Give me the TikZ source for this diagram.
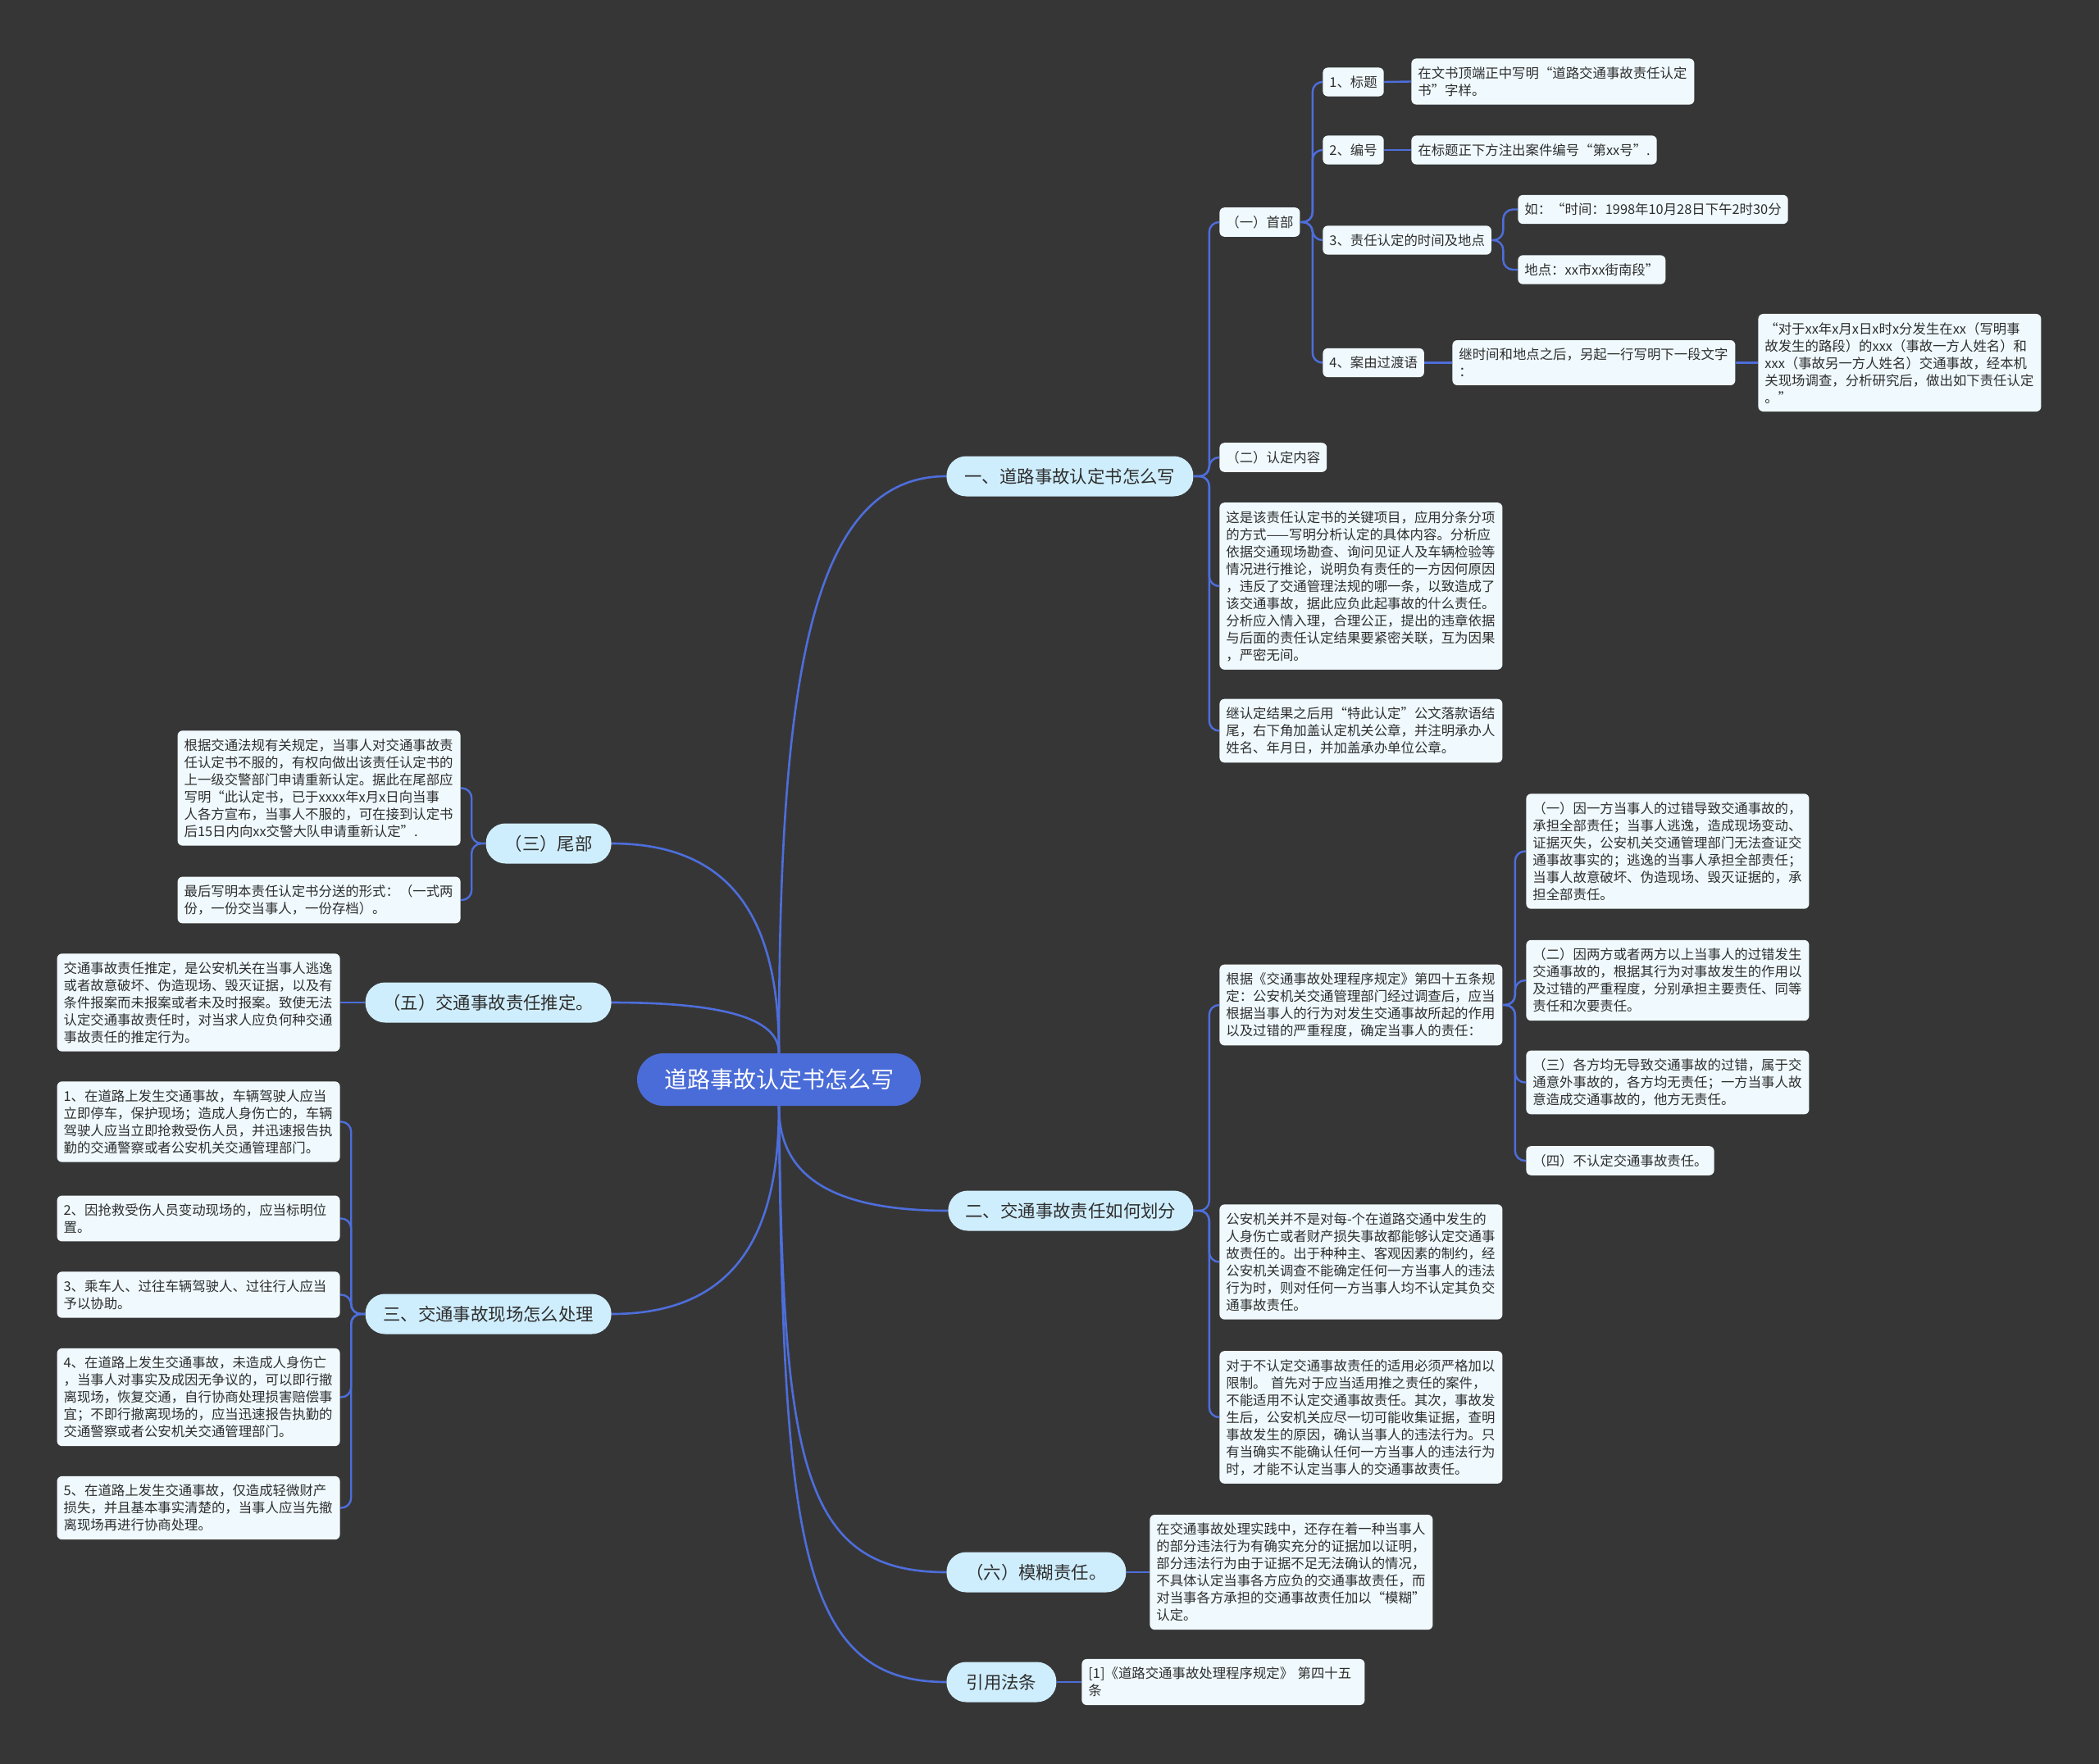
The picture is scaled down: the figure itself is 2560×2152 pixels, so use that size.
\documentclass[tikz,border=0pt]{standalone}
\usepackage{fontspec}
\setmainfont{Noto Sans CJK SC}
\definecolor{bgc}{HTML}{373637}
\definecolor{rootc}{HTML}{4A6CD8}
\definecolor{linec}{HTML}{4D6EDB}
\definecolor{branchc}{HTML}{CFEEFD}
\definecolor{leafc}{HTML}{F0FAFE}
\definecolor{txtc}{HTML}{2E2E2E}
\tikzset{
  leaf/.style={fill=leafc, rounded corners=3pt, inner xsep=4pt, inner ysep=5pt, text=txtc, align=left, font=\fontsize{8.2pt}{10.5pt}\selectfont},
  wide/.style={leaf, text width=164.5pt},
  branch/.style={fill=branchc, rounded corners=12pt, minimum height=24.5pt, inner sep=0pt, text=txtc, font=\fontsize{10.7pt}{13pt}\selectfont},
  rootnode/.style={fill=rootc, rounded corners=16pt, minimum width=173pt, minimum height=32pt, inner sep=0pt, text=white, font=\fontsize{14pt}{17pt}\selectfont},
  conn/.style={draw=linec, line width=1.2pt, rounded corners=6pt},
  rconn/.style={draw=linec, line width=1.3pt}
}
\begin{document}
\begin{tikzpicture}[x=0.5pt,y=-0.5pt]
\fill[bgc] (0,0) rectangle (2560,2152);
\useasboundingbox (0,0) rectangle (2560,2152);

% root
\node[rootnode] (root) at (950,1317) {道路事故认定书怎么写};

% branches
\node[branch, anchor=west, minimum width=150.5pt] (b1) at (1154,581) {一、道路事故认定书怎么写};
\node[branch, anchor=west, minimum width=149.5pt] (b2) at (1156,1477) {二、交通事故责任如何划分};
\node[branch, anchor=east, minimum width=76.5pt] (b3) at (746,1029) {（三）尾部};
\node[branch, anchor=east, minimum width=150pt] (b5) at (746,1223) {（五）交通事故责任推定。};
\node[branch, anchor=east, minimum width=150pt] (b4) at (746,1603) {三、交通事故现场怎么处理};
\node[branch, anchor=west, minimum width=109.5pt] (b6) at (1154,1918) {（六）模糊责任。};
\node[branch, anchor=west, minimum width=67pt] (b7) at (1154,2052) {引用法条};

% branch 1
\node[leaf, anchor=west] (s1) at (1487,271) {（一）首部};
\node[leaf, anchor=west] (s2) at (1487,558) {（二）认定内容};
\node[wide, anchor=west] (s3) at (1487,715) {这是该责任认定书的关键项目，应用分条分项\\的方式——写明分析认定的具体内容。分析应\\依据交通现场勘查、询问见证人及车辆检验等\\情况进行推论，说明负有责任的一方因何原因\\，违反了交通管理法规的哪一条，以致造成了\\该交通事故，据此应负此起事故的什么责任。\\分析应入情入理，合理公正，提出的违章依据\\与后面的责任认定结果要紧密关联，互为因果\\，严密无间。};
\node[wide, anchor=west] (s4) at (1487,891.5) {继认定结果之后用“特此认定”公文落款语结\\尾，右下角加盖认定机关公章，并注明承办人\\姓名、年月日，并加盖承办单位公章。};

\node[leaf, anchor=west] (n1) at (1613,100) {1、标题};
\node[leaf, anchor=west] (n2) at (1613,183) {2、编号};
\node[leaf, anchor=west] (n3) at (1613,293) {3、责任认定的时间及地点};
\node[leaf, anchor=west] (n4) at (1613,442.5) {4、案由过渡语};
\node[wide, anchor=west] (t1) at (1721,99.5) {在文书顶端正中写明“道路交通事故责任认定\\书”字样。};
\node[leaf, anchor=west] (t2) at (1721,183) {在标题正下方注出案件编号“第xx号”.};
\node[leaf, anchor=west] (t3a) at (1851,255.5) {如：“时间：1998年10月28日下午2时30分};
\node[leaf, anchor=west] (t3b) at (1851,329) {地点：xx市xx街南段”};
\node[wide, anchor=west] (t4) at (1771,442.5) {继时间和地点之后，另起一行写明下一段文字\\：};
\node[wide, anchor=west] (t5) at (2144,442.5) {“对于xx年x月x日x时x分发生在xx（写明事\\故发生的路段）的xxx（事故一方人姓名）和\\xxx（事故另一方人姓名）交通事故，经本机\\关现场调查，分析研究后，做出如下责任认定\\。”};

% branch 2
\node[wide, anchor=west] (r1) at (1487,1226) {根据《交通事故处理程序规定》第四十五条规\\定：公安机关交通管理部门经过调查后，应当\\根据当事人的行为对发生交通事故所起的作用\\以及过错的严重程度，确定当事人的责任：};
\node[wide, anchor=west] (r2) at (1487,1539.5) {公安机关并不是对每-个在道路交通中发生的\\人身伤亡或者财产损失事故都能够认定交通事\\故责任的。出于种种主、客观因素的制约，经\\公安机关调查不能确定任何一方当事人的违法\\行为时，则对任何一方当事人均不认定其负交\\通事故责任。};
\node[wide, anchor=west] (r3) at (1487,1729) {对于不认定交通事故责任的适用必须严格加以\\限制。 首先对于应当适用推之责任的案件，\\不能适用不认定交通事故责任。其次，事故发\\生后，公安机关应尽一切可能收集证据，查明\\事故发生的原因，确认当事人的违法行为。只\\有当确实不能确认任何一方当事人的违法行为\\时，才能不认定当事人的交通事故责任。};
\node[wide, anchor=west] (r1a) at (1861,1038.5) {（一）因一方当事人的过错导致交通事故的，\\承担全部责任；当事人逃逸，造成现场变动、\\证据灭失，公安机关交通管理部门无法查证交\\通事故事实的；逃逸的当事人承担全部责任；\\当事人故意破坏、伪造现场、毁灭证据的，承\\担全部责任。};
\node[wide, anchor=west] (r1b) at (1861,1196) {（二）因两方或者两方以上当事人的过错发生\\交通事故的，根据其行为对事故发生的作用以\\及过错的严重程度，分别承担主要责任、同等\\责任和次要责任。};
\node[wide, anchor=west] (r1c) at (1861,1320.5) {（三）各方均无导致交通事故的过错，属于交\\通意外事故的，各方均无责任；一方当事人故\\意造成交通事故的，他方无责任。};
\node[leaf, anchor=west] (r1d) at (1861,1416) {（四）不认定交通事故责任。};

% left branches
\node[wide, anchor=east] (l1) at (562,961.5) {根据交通法规有关规定，当事人对交通事故责\\任认定书不服的，有权向做出该责任认定书的\\上一级交警部门申请重新认定。据此在尾部应\\写明“此认定书，已于xxxx年x月x日向当事\\人各方宣布，当事人不服的，可在接到认定书\\后15日内向xx交警大队申请重新认定”.};
\node[wide, anchor=east] (l2) at (562,1098) {最后写明本责任认定书分送的形式：（一式两\\份，一份交当事人，一份存档）。};
\node[wide, anchor=east] (l5) at (415,1223) {交通事故责任推定，是公安机关在当事人逃逸\\或者故意破坏、伪造现场、毁灭证据，以及有\\条件报案而未报案或者未及时报案。致使无法\\认定交通事故责任时，对当求人应负何种交通\\事故责任的推定行为。};
\node[wide, anchor=east] (m1) at (415,1368.5) {1、在道路上发生交通事故，车辆驾驶人应当\\立即停车，保护现场；造成人身伤亡的，车辆\\驾驶人应当立即抢救受伤人员，并迅速报告执\\勤的交通警察或者公安机关交通管理部门。};
\node[wide, anchor=east] (m2) at (415,1486.5) {2、因抢救受伤人员变动现场的，应当标明位\\置。};
\node[wide, anchor=east] (m3) at (415,1579.5) {3、乘车人、过往车辆驾驶人、过往行人应当\\予以协助。};
\node[wide, anchor=east] (m4) at (415,1704.5) {4、在道路上发生交通事故，未造成人身伤亡\\，当事人对事实及成因无争议的，可以即行撤\\离现场，恢复交通，自行协商处理损害赔偿事\\宜；不即行撤离现场的，应当迅速报告执勤的\\交通警察或者公安机关交通管理部门。};
\node[wide, anchor=east] (m5) at (415,1839.5) {5、在道路上发生交通事故，仅造成轻微财产\\损失，并且基本事实清楚的，当事人应当先撤\\离现场再进行协商处理。};

% bottom
\node[wide, anchor=west] (x6) at (1402,1918) {在交通事故处理实践中，还存在着一种当事人\\的部分违法行为有确实充分的证据加以证明，\\部分违法行为由于证据不足无法确认的情况，\\不具体认定当事各方应负的交通事故责任，而\\对当事各方承担的交通事故责任加以“模糊”\\认定。};
\node[wide, anchor=west] (x7) at (1319,2052) {[1]《道路交通事故处理程序规定》 第四十五\\条};

% root connectors
\draw[rconn] (root.north) .. controls (950,840) and (985,581) .. (b1.west);
\draw[rconn] (root.north) .. controls (950,1144) and (909,1029) .. (b3.east);
\draw[rconn] (root.north) .. controls (950,1251) and (909,1223) .. (b5.east);
\draw[rconn] (root.south) .. controls (950,1419) and (991,1477) .. (b2.west);
\draw[rconn] (root.south) .. controls (950,1489) and (909,1603) .. (b4.east);
\draw[rconn] (root.south) .. controls (955,1780) and (975,1918) .. (b6.west);
\draw[rconn] (root.south) .. controls (955,1880) and (975,2052) .. (b7.west);

% branch 1 connectors
\foreach \c in {s1,s2,s3,s4} \draw[conn] (b1.east) -- ++(19,0) |- (\c.west);
\foreach \c in {n1,n2,n3,n4} \draw[conn] (s1.east) -- ++(15,0) |- (\c.west);
\draw[conn] (n1.east) -- (t1.west);
\draw[conn] (n2.east) -- (t2.west);
\foreach \c in {t3a,t3b} \draw[conn] (n3.east) -- ++(14,0) |- (\c.west);
\draw[conn] (n4.east) -- (t4.west);
\draw[conn] (t4.east) -- (t5.west);

% branch 2 connectors
\foreach \c in {r1,r2,r3} \draw[conn] (b2.east) -- ++(19,0) |- (\c.west);
\foreach \c in {r1a,r1b,r1c,r1d} \draw[conn] (r1.east) -- ++(15,0) |- (\c.west);

% left connectors
\foreach \c in {l1,l2} \draw[conn] (b3.west) -- ++(-17,0) |- (\c.east);
\draw[conn] (b5.west) -- (l5.east);
\foreach \c in {m1,m2,m3,m4,m5} \draw[conn] (b4.west) -- ++(-17,0) |- (\c.east);

% bottom connectors
\draw[conn] (b6.east) -- (x6.west);
\draw[conn] (b7.east) -- (x7.west);
\end{tikzpicture}
\end{document}
